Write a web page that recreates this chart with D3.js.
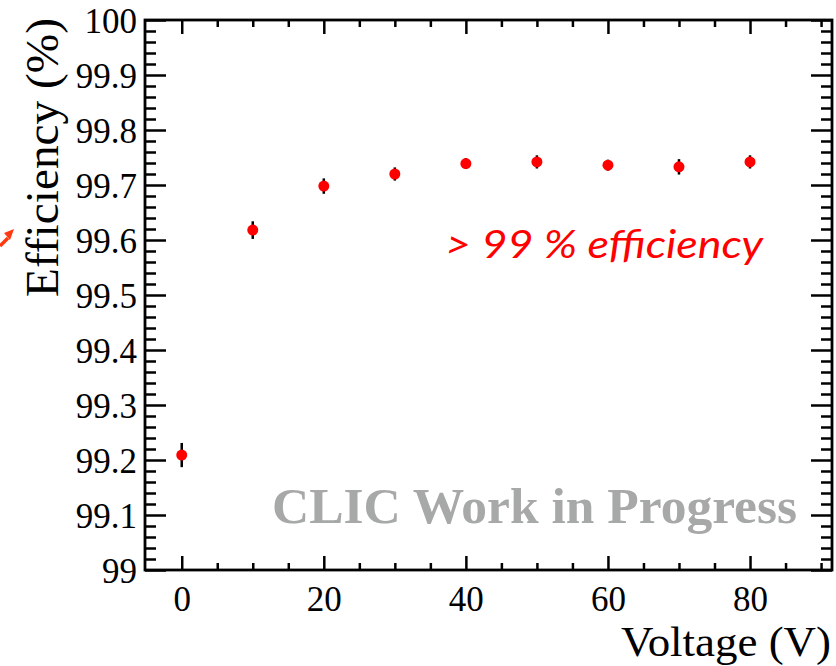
<!DOCTYPE html>
<html>
<head>
<meta charset="utf-8">
<script src="https://cdn.jsdelivr.net/npm/d3@7"></script>
<style>
  html, body { margin: 0; padding: 0; background: #fff; }
  svg { display: block; }
</style>
</head>
<body>
<svg id="chart" width="836" height="666"></svg>
<script>
// ---- data ----
const voltages = [0, 10, 20, 30, 40, 50, 60, 70, 80];
const efficiency = [99.209, 99.618, 99.698, 99.720, 99.739, 99.742, 99.736, 99.733, 99.742];
const errors = [0.022, 0.016, 0.014, 0.012, 0.010, 0.012, 0.010, 0.014, 0.012];
const xTickValues = [0, 20, 40, 60, 80];
const yTickValues = [99, 99.1, 99.2, 99.3, 99.4, 99.5, 99.6, 99.7, 99.8, 99.9, 100];
const yTickLabels = ["99", "99.1", "99.2", "99.3", "99.4", "99.5", "99.6", "99.7", "99.8", "99.9", "100"];
const xTitle = "Voltage (V)";
const yTitle = "Efficiency (%)";
const watermark = "CLIC Work in Progress";
const annotation = "> 99 % efficiency";

// ---- layout ----
const L = 145, R = 832, T = 20, B = 570;
const svg = d3.select("#chart");
const x = d3.scaleLinear().domain([-5.17, 91.54]).range([L, R]);
const y = d3.scaleLinear().domain([99, 100]).range([B, T]);

const serif = "'Liberation Serif', 'DejaVu Serif', serif";

// minor tick values
const xMinor = d3.range(0, 91, 5).filter(v => !xTickValues.includes(v));
const yMinor = d3.range(0, 51).map(i => 99 + i * 0.02).filter(v => !yTickValues.some(t => Math.abs(t - v) < 1e-6));

const axisStyle = g => {
  g.attr("font-family", serif);
  g.select(".domain").remove();
  g.selectAll(".tick line").attr("stroke", "#000").attr("stroke-width", 2.5);
};

// bottom axis (ticks inward)
svg.append("g").attr("transform", `translate(0,${B})`)
  .call(d3.axisBottom(x).tickValues(xTickValues).tickSize(-14).tickFormat(d3.format("d")).tickPadding(16))
  .call(axisStyle)
  .call(g => g.selectAll(".tick text").attr("font-family", serif).attr("font-size", 35).attr("fill", "#000").attr("dy", "0.71em"));
svg.append("g").attr("transform", `translate(0,${B})`)
  .call(d3.axisBottom(x).tickValues(xMinor).tickSize(-7).tickFormat(""))
  .call(axisStyle);
// top axis
svg.append("g").attr("transform", `translate(0,${T})`)
  .call(d3.axisTop(x).tickValues(xTickValues).tickSize(-14).tickFormat(""))
  .call(axisStyle);
svg.append("g").attr("transform", `translate(0,${T})`)
  .call(d3.axisTop(x).tickValues(xMinor).tickSize(-7).tickFormat(""))
  .call(axisStyle);
// left axis
svg.append("g").attr("transform", `translate(${L},0)`)
  .call(d3.axisLeft(y).tickValues(yTickValues).tickSize(-21).tickPadding(8)
    .tickFormat((d, i) => yTickLabels[i]))
  .call(axisStyle)
  .call(g => g.selectAll(".tick text").attr("font-family", serif).attr("font-size", 35).attr("fill", "#000").attr("dy", "0.35em"));
svg.append("g").attr("transform", `translate(${L},0)`)
  .call(d3.axisLeft(y).tickValues(yMinor).tickSize(-11).tickFormat(""))
  .call(axisStyle);
// right axis
svg.append("g").attr("transform", `translate(${R},0)`)
  .call(d3.axisRight(y).tickValues(yTickValues).tickSize(-21).tickFormat(""))
  .call(axisStyle);
svg.append("g").attr("transform", `translate(${R},0)`)
  .call(d3.axisRight(y).tickValues(yMinor).tickSize(-11).tickFormat(""))
  .call(axisStyle);

// frame
svg.append("rect").attr("x", L).attr("y", T).attr("width", R - L).attr("height", B - T)
  .attr("fill", "none").attr("stroke", "#000").attr("stroke-width", 2.8);

// watermark
svg.append("text").attr("x", 272).attr("y", 523)
  .attr("font-family", serif).attr("font-weight", "bold").attr("font-size", 51)
  .attr("fill", "#a6a9a7").attr("textLength", 525).attr("lengthAdjust", "spacingAndGlyphs")
  .text(watermark);

// annotation
svg.append("text").attr("x", 445).attr("y", 258)
  .attr("font-family", "Lato, 'Open Sans', sans-serif").attr("font-style", "italic").attr("font-size", 38)
  .attr("fill", "#ff0000").attr("textLength", 318).attr("lengthAdjust", "spacingAndGlyphs")
  .text(annotation);

// data points
const pts = voltages.map((v, i) => ({ v, e: efficiency[i], err: errors[i] }));
svg.append("g").selectAll("line").data(pts).join("line")
  .attr("x1", d => x(d.v)).attr("x2", d => x(d.v))
  .attr("y1", d => y(d.e - d.err)).attr("y2", d => y(d.e + d.err))
  .attr("stroke", "#000").attr("stroke-width", 2.5);
svg.append("g").selectAll("circle").data(pts).join("circle")
  .attr("cx", d => x(d.v)).attr("cy", d => y(d.e)).attr("r", 5.5)
  .attr("fill", "#ff0000");

// axis titles
svg.append("text").attr("x", 831).attr("y", 656).attr("text-anchor", "end")
  .attr("font-family", serif).attr("font-size", 43).attr("fill", "#000")
  .attr("textLength", 210).attr("lengthAdjust", "spacingAndGlyphs").text(xTitle);
svg.append("text").attr("transform", "translate(58,297) rotate(-90)").attr("text-anchor", "start")
  .attr("font-family", serif).attr("font-size", 47).attr("fill", "#000")
  .attr("textLength", 279).attr("lengthAdjust", "spacingAndGlyphs").text(yTitle);

// small red arrow fragment at left edge
svg.append("path").attr("d", "M0,246 L8,238").attr("stroke", "#ff3a10").attr("stroke-width", 3.5).attr("fill", "none");
svg.append("path").attr("d", "M4,233 L14,229 L10,240 Z").attr("fill", "#ff3a10");
</script>
</body>
</html>
